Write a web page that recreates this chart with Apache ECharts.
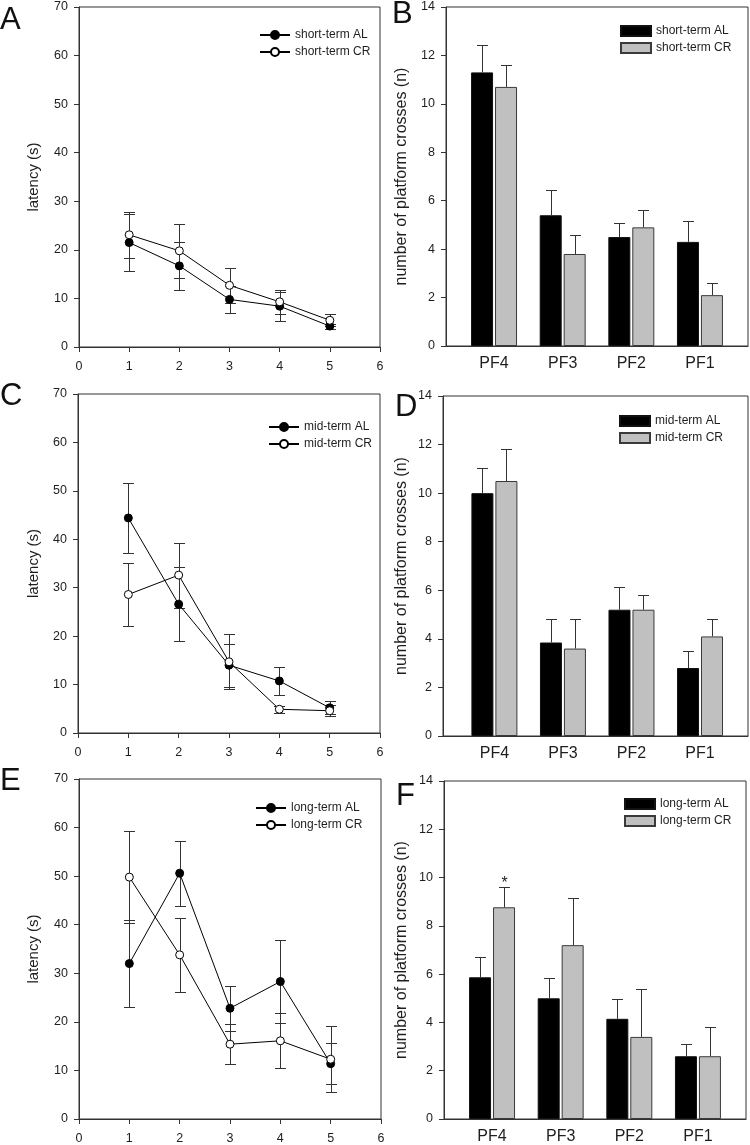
<!DOCTYPE html>
<html><head><meta charset="utf-8">
<script src="https://cdn.jsdelivr.net/npm/echarts@6/dist/echarts.min.js"></script>
<style>html,body{margin:0;padding:0;background:#fff}#c{width:750px;height:1145px}</style>
</head><body><div id="c"></div>
<script>
// ---------- data ----------
const days = [1, 2, 3, 4, 5];
const pfCategories = ['PF4', 'PF3', 'PF2', 'PF1'];

// Panel A (short-term latency)
const shortLatAL    = [21.5, 16.7, 9.8, 8.4, 4.3];
const shortLatALErr = [5.9, 5.0, 2.7, 3.0, 0.5];
const shortLatCR    = [23.1, 19.8, 12.7, 9.3, 5.5];
const shortLatCRErr = [4.7, 5.6, 3.6, 2.5, 1.2];
// Panel C (mid-term latency)
const midLatAL    = [44.4, 26.6, 14.0, 10.75, 5.2];
const midLatALErr = [7.3, 7.7, 4.4, 2.9, 1.35];
const midLatCR    = [28.6, 32.6, 14.7, 4.9, 4.6];
const midLatCRErr = [6.5, 6.7, 5.7, 0.7, 1.1];
// Panel E (long-term latency)
const longLatAL    = [32.0, 50.6, 22.8, 28.3, 11.4];
const longLatALErr = [8.9, 6.7, 4.6, 8.6, 4.2];
const longLatCR    = [49.8, 33.8, 15.4, 16.1, 12.3];
const longLatCRErr = [9.4, 7.6, 4.1, 5.7, 6.8];

// Panel B (short-term platform crosses)
const shortPfAL    = [11.3, 5.4, 4.5, 4.3];
const shortPfALErr = [1.15, 1.05, 0.6, 0.85];
const shortPfCR    = [10.7, 3.8, 4.9, 2.1];
const shortPfCRErr = [0.9, 0.8, 0.7, 0.5];
// Panel D (mid-term platform crosses)
const midPfAL    = [10.0, 3.85, 5.2, 2.8];
const midPfALErr = [1.05, 0.95, 0.93, 0.68];
const midPfCR    = [10.5, 3.6, 5.2, 4.1];
const midPfCRErr = [1.3, 1.2, 0.6, 0.72];
// Panel F (long-term platform crosses)
const longPfAL    = [5.87, 5.0, 4.15, 2.6];
const longPfALErr = [0.83, 0.85, 0.8, 0.52];
const longPfCR    = [8.77, 7.2, 3.4, 2.6];
const longPfCRErr = [0.83, 1.94, 1.97, 1.21];
const longPfCRSig = ['*', '', '', ''];

const panelLetters = ['A', 'B', 'C', 'D', 'E', 'F'];

// ---------- build ----------
const FONT = '"Liberation Sans", Arial, Helvetica, sans-serif';
const TXT = '#1e1e1e';
const AX = '#333';

const grids = [], xAxes = [], yAxes = [], series = [], legends = [];

function errRender(dx, capHalf, both, labels) {
  return function (params, api) {
    const x = api.value(0), y = api.value(1), e = api.value(2);
    const p = api.coord([x, y]);
    const t = api.coord([x, y + e]);
    const b = api.coord([x, y - e]);
    const cx = Math.round(p[0] + dx) + 0.5;
    const ty = Math.round(t[1]) + 0.5;
    const by = both ? Math.round(b[1]) + 0.5 : p[1];
    const st = { stroke: AX, lineWidth: 1 };
    const ch = [
      { type: 'line', shape: { x1: cx, y1: ty, x2: cx, y2: by }, style: st },
      { type: 'line', shape: { x1: cx - capHalf, y1: ty, x2: cx + capHalf, y2: ty }, style: st }
    ];
    if (both) ch.push({ type: 'line', shape: { x1: cx - capHalf, y1: by, x2: cx + capHalf, y2: by }, style: st });
    if (labels && labels[params.dataIndex]) {
      ch.push({ type: 'text', x: cx, y: ty - 4,
        style: { text: labels[params.dataIndex], fontSize: 16, fontFamily: FONT, fill: TXT, align: 'center', verticalAlign: 'middle' } });
    }
    return { type: 'group', children: ch };
  };
}

function baseY(idx, max, interval, name, nameGap, nameSize) {
  return {
    type: 'value', gridIndex: idx, min: 0, max: max, interval: interval,
    name: name, nameLocation: 'middle', nameGap: nameGap,
    nameTextStyle: { fontSize: nameSize, fontFamily: FONT, color: TXT },
    axisLine: { show: true, lineStyle: { color: AX, width: 1 } },
    axisTick: { show: true, length: 5, lineStyle: { color: AX } },
    axisLabel: { fontSize: 12.5, fontFamily: FONT, color: TXT, margin: 11 },
    splitLine: { show: false }
  };
}

function linePanel(idx, g, names, al, alErr, cr, crErr, leg, nameGap) {
  grids.push(Object.assign({ show: true, borderColor: AX, borderWidth: 1, backgroundColor: 'transparent' }, g));
  xAxes.push({
    type: 'value', gridIndex: idx, min: 0, max: 6, interval: 1,
    axisLine: { show: true, onZero: false, lineStyle: { color: AX, width: 1 } },
    axisTick: { show: true, length: 5, lineStyle: { color: AX } },
    axisLabel: { fontSize: 12.5, fontFamily: FONT, color: TXT, margin: 13 },
    splitLine: { show: false }
  });
  yAxes.push(baseY(idx, 70, 10, 'latency (s)', nameGap, 15));
  const mk = (name, vals, fill) => ({
    type: 'line', name: name, xAxisIndex: idx, yAxisIndex: idx, z: 3,
    data: days.map((d, i) => [d, vals[i]]),
    symbol: 'circle', symbolSize: 8, showAllSymbol: true,
    lineStyle: { color: '#000', width: 1 },
    itemStyle: { color: fill, borderColor: '#000', borderWidth: 1 },
    emphasis: { disabled: true }
  });
  const mkErr = (vals, errs) => ({
    type: 'custom', xAxisIndex: idx, yAxisIndex: idx, z: 2,
    data: days.map((d, i) => [d, vals[i], errs[i]]),
    renderItem: errRender(0, 5.5, true, null), silent: true
  });
  series.push(mkErr(al, alErr), mkErr(cr, crErr), mk(names[0], al, '#000'), mk(names[1], cr, '#fff'));
  legends.push({
    orient: 'vertical', left: leg[0], top: leg[1], itemWidth: 30, itemHeight: 10, itemGap: 3,
    data: names, selectedMode: false,
    textStyle: { fontSize: 12, fontFamily: FONT, color: TXT, lineHeight: 14 }
  });
}

function barPanel(idx, g, names, al, alErr, cr, crErr, sig, leg, xmin, nameGap) {
  grids.push(Object.assign({ show: true, borderColor: AX, borderWidth: 1, backgroundColor: 'transparent' }, g));
  xAxes.push({
    type: 'value', gridIndex: idx, min: xmin, max: 4.7,
    axisLine: { show: true, onZero: false, lineStyle: { color: AX, width: 1 } },
    axisTick: { show: false },
    axisLabel: { fontSize: 16, fontFamily: FONT, color: TXT, margin: 10,
      customValues: [1, 2, 3, 4], formatter: v => pfCategories[Math.round(v) - 1] || '' },
    splitLine: { show: false }
  });
  yAxes.push(baseY(idx, 14, 2, 'number of platform crosses (n)', nameGap, 16));
  const mk = (name, vals, fill, border) => ({
    type: 'bar', name: name, xAxisIndex: idx, yAxisIndex: idx, z: 2,
    data: pfCategories.map((c, i) => [i + 1, vals[i]]),
    barWidth: 22, barGap: '9%',
    itemStyle: { color: fill, borderColor: border, borderWidth: 1 },
    emphasis: { disabled: true }
  });
  const mkErr = (vals, errs, dx, labels) => ({
    type: 'custom', xAxisIndex: idx, yAxisIndex: idx, z: 3,
    data: pfCategories.map((c, i) => [i + 1, vals[i], errs[i]]),
    renderItem: errRender(dx, 5.5, false, labels), silent: true
  });
  series.push(mk(names[0], al, '#000', '#111'), mk(names[1], cr, '#c0c0c0', '#3a3a3a'),
    mkErr(al, alErr, -12, null), mkErr(cr, crErr, 12, sig));
  legends.push({
    orient: 'vertical', left: leg[0], top: leg[1], itemWidth: 30, itemHeight: 10, itemGap: 3,
    data: names, selectedMode: false, icon: 'rect',
    textStyle: { fontSize: 12, fontFamily: FONT, color: TXT, lineHeight: 14 }
  });
}

linePanel(0, { left: 79, top: 7, width: 301, height: 340 }, ['short-term AL', 'short-term CR'],
  shortLatAL, shortLatALErr, shortLatCR, shortLatCRErr, [254, 23], 38);
barPanel(1, { left: 446, top: 7, width: 302, height: 339 }, ['short-term AL', 'short-term CR'].map(s => s + ' '),
  shortPfAL, shortPfALErr, shortPfCR, shortPfCRErr, null, [615, 19], 0.3, 36);
linePanel(2, { left: 78, top: 394, width: 302, height: 339 }, ['mid-term AL', 'mid-term CR'],
  midLatAL, midLatALErr, midLatCR, midLatCRErr, [263, 415], 37);
barPanel(3, { left: 443, top: 396, width: 305, height: 340 }, ['mid-term AL', 'mid-term CR'].map(s => s + ' '),
  midPfAL, midPfALErr, midPfCR, midPfCRErr, null, [614, 409], 0.25, 33);
linePanel(4, { left: 79, top: 779, width: 302, height: 340 }, ['long-term AL', 'long-term CR'],
  longLatAL, longLatALErr, longLatCR, longLatCRErr, [250, 796], 38);
barPanel(5, { left: 444, top: 781, width: 302, height: 339 }, ['long-term AL', 'long-term CR'].map(s => s + ' '),
  longPfAL, longPfALErr, longPfCR, longPfCRErr, longPfCRSig, [619, 792], 0.3, 34);

const letterPos = [[0, 20], [392, 14], [0, 396], [395, 407], [0, 781], [396, 796]];
const graphics = panelLetters.map((L, i) => ({
  type: 'text', x: letterPos[i][0], y: letterPos[i][1], silent: true,
  style: { text: L, fontSize: 31, fontFamily: FONT, fill: '#111', verticalAlign: 'middle', align: 'left' }
}));

const chart = echarts.init(document.getElementById('c'), null, { renderer: 'canvas' });
chart.setOption({
  animation: false,
  backgroundColor: '#fff',
  textStyle: { fontFamily: FONT },
  grid: grids, xAxis: xAxes, yAxis: yAxes, legend: legends, series: series, graphic: graphics
});
</script></body></html>
